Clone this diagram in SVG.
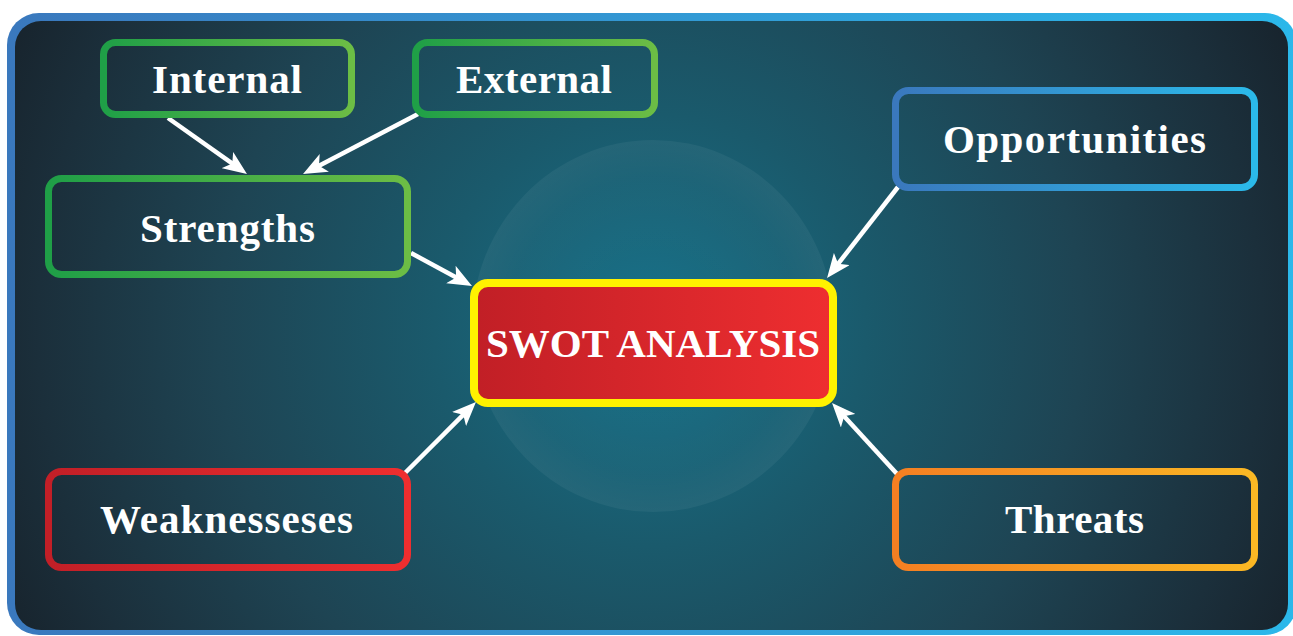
<svg xmlns="http://www.w3.org/2000/svg" width="1293" height="636" viewBox="0 0 1293 636">
<defs>
<linearGradient id="gFrame" x1="0" y1="0" x2="1" y2="0"><stop offset="0" stop-color="#3a78bd"/><stop offset="1" stop-color="#2bb8ea"/></linearGradient>
<radialGradient id="gBg" gradientUnits="userSpaceOnUse" cx="650" cy="330" r="720"><stop offset="0" stop-color="#16728a"/><stop offset="0.3" stop-color="#1a5a6c"/><stop offset="0.6" stop-color="#1e4453"/><stop offset="0.85" stop-color="#1b2f3b"/><stop offset="1" stop-color="#17222b"/></radialGradient>
<radialGradient id="gDisc" cx="0.5" cy="0.5" r="0.5"><stop offset="0" stop-color="#ffffff" stop-opacity="0"/><stop offset="0.8" stop-color="#ffffff" stop-opacity="0.02"/><stop offset="1" stop-color="#ffffff" stop-opacity="0.05"/></radialGradient>
<linearGradient id="gGreen" x1="0" y1="0" x2="1" y2="0"><stop offset="0" stop-color="#1f9f47"/><stop offset="1" stop-color="#6cbd45"/></linearGradient>
<linearGradient id="gBlue" x1="0" y1="0" x2="1" y2="0"><stop offset="0" stop-color="#3a78bd"/><stop offset="1" stop-color="#2bbaea"/></linearGradient>
<linearGradient id="gRedS" x1="0" y1="0" x2="1" y2="0"><stop offset="0" stop-color="#c21f27"/><stop offset="1" stop-color="#ee2e2f"/></linearGradient>
<linearGradient id="gOrange" x1="0" y1="0" x2="1" y2="0"><stop offset="0" stop-color="#f47f22"/><stop offset="1" stop-color="#fbb824"/></linearGradient>
<linearGradient id="gRedF" x1="0" y1="0" x2="1" y2="0"><stop offset="0" stop-color="#c11f26"/><stop offset="1" stop-color="#ee2e30"/></linearGradient>
<marker id="arr" markerUnits="userSpaceOnUse" viewBox="0 0 24 20" markerWidth="24" markerHeight="20" refX="14" refY="10" orient="auto"><path d="M0,0 L24,10 L0,20 L6,10 z" fill="#ffffff"/></marker>
<style>
.box{fill:none;stroke-width:7}
.lbl{font-family:"Liberation Serif","Times New Roman",serif;font-weight:bold;font-size:41px;fill:#ffffff;text-anchor:middle}
.con{stroke:#ffffff;stroke-width:4.5;fill:none;marker-end:url(#arr)}
</style>
</defs>
<rect x="7" y="13" width="1290" height="622" rx="32" fill="url(#gFrame)"/>
<rect x="15" y="21" width="1273" height="609" rx="26" fill="url(#gBg)"/>
<ellipse cx="653" cy="326" rx="181" ry="186" fill="url(#gDisc)"/>
<g id="connectors">
<line class="con" x1="168" y1="118" x2="238.8" y2="168.2"/>
<line class="con" x1="418" y1="114" x2="311.9" y2="169.4"/>
<line class="con" x1="411" y1="253" x2="463.2" y2="281.2"/>
<line class="con" x1="898" y1="187" x2="833.2" y2="270.1"/>
<line class="con" x1="405" y1="473" x2="468.9" y2="409.1"/>
<line class="con" x1="898" y1="475" x2="838.8" y2="410.4"/>
</g>
<g id="internal"><rect class="box" x="103.5" y="42.5" width="248" height="72" rx="12" stroke="url(#gGreen)"/><text class="lbl" x="227" y="93" textLength="150">Internal</text></g>
<g id="external"><rect class="box" x="415.5" y="42.5" width="239" height="72" rx="12" stroke="url(#gGreen)"/><text class="lbl" x="534" y="93" textLength="156">External</text></g>
<g id="strengths"><rect class="box" x="48.5" y="178.5" width="359" height="96" rx="13" stroke="url(#gGreen)"/><text class="lbl" x="227.5" y="242" textLength="175">Strengths</text></g>
<g id="opportunities"><rect class="box" x="895.5" y="90.5" width="359" height="97" rx="13" stroke="url(#gBlue)"/><text class="lbl" x="1074.5" y="153" textLength="263">Opportunities</text></g>
<g id="swot"><rect x="474" y="283" width="359" height="120" rx="14" fill="url(#gRedF)" stroke="#fff200" stroke-width="8"/><text class="lbl" x="653" y="357" textLength="334">SWOT ANALYSIS</text></g>
<g id="weaknesses"><rect class="box" x="48.5" y="471.5" width="359" height="96" rx="13" stroke="url(#gRedS)"/><text class="lbl" x="226.5" y="533" textLength="253">Weaknesseses</text></g>
<g id="threats"><rect class="box" x="895.5" y="471.5" width="359" height="96" rx="13" stroke="url(#gOrange)"/><text class="lbl" x="1074.5" y="533" textLength="139">Threats</text></g>
</svg>
